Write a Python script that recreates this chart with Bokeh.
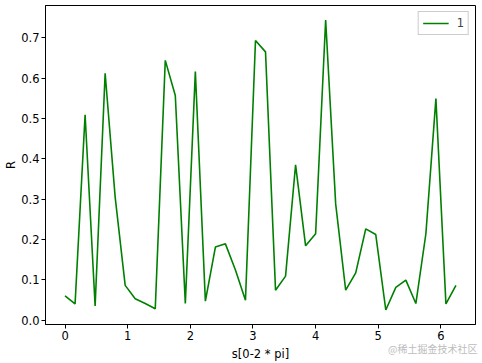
from bokeh.plotting import figure
from bokeh.models import Range1d, FixedTicker, Legend, LegendItem, PrintfTickFormatter, Title
from bokeh.embed import file_html
from bokeh.resources import INLINE

# sample positions (0 .. 2*pi, step 0.16)
s_values = [0.00, 0.16, 0.32, 0.48, 0.64, 0.80, 0.96, 1.12, 1.28, 1.44,
            1.60, 1.76, 1.92, 2.08, 2.24, 2.40, 2.56, 2.72, 2.88, 3.04,
            3.20, 3.36, 3.52, 3.68, 3.84, 4.00, 4.16, 4.32, 4.48, 4.64,
            4.80, 4.96, 5.12, 5.28, 5.44, 5.60, 5.76, 5.92, 6.08, 6.24]
r_values = [0.060, 0.040, 0.509, 0.035, 0.612, 0.305, 0.086, 0.053, 0.041, 0.028,
            0.644, 0.557, 0.041, 0.616, 0.047, 0.181, 0.189, 0.124, 0.049, 0.693,
            0.665, 0.074, 0.109, 0.385, 0.184, 0.214, 0.744, 0.288, 0.074, 0.117,
            0.226, 0.212, 0.025, 0.081, 0.099, 0.041, 0.214, 0.549, 0.040, 0.086]
series_name = "1"
x_ticks = [0, 1, 2, 3, 4, 5, 6]
y_ticks = [0.0, 0.1, 0.2, 0.3, 0.4, 0.5, 0.6, 0.7]
watermark = "@稀土掘金技术社区"

FONT = "DejaVu Sans"
FS = "11.5px"

p = figure(width=482, height=363, output_backend="svg", toolbar_location=None,
           x_range=Range1d(-0.312, 6.552), y_range=Range1d(-0.011, 0.780),
           min_border_left=45, min_border_right=7, min_border_top=5, min_border_bottom=39)
p.background_fill_color = "white"
p.border_fill_color = "white"
p.outline_line_color = "black"
p.outline_line_width = 1
p.grid.visible = False

r = p.line(s_values, r_values, line_color="#008000", line_width=1.6)

for ax in (p.xaxis[0], p.yaxis[0]):
    ax.major_tick_in = 0
    ax.major_tick_out = 4
    ax.minor_tick_in = 0
    ax.minor_tick_out = 0
    ax.axis_line_color = "black"
    ax.major_tick_line_color = "black"
    ax.major_label_text_font = FONT
    ax.major_label_text_font_size = FS
    ax.major_label_text_color = "black"
    ax.axis_label_text_font = FONT
    ax.axis_label_text_font_size = FS
    ax.axis_label_text_font_style = "normal"
    ax.axis_label_text_color = "black"

p.xaxis.ticker = FixedTicker(ticks=x_ticks)
p.yaxis.ticker = FixedTicker(ticks=y_ticks)
p.yaxis.formatter = PrintfTickFormatter(format="%.1f")
p.xaxis.axis_label = "s[0-2 * pi]"
p.yaxis.axis_label = "R"
p.xaxis.major_label_standoff = 2
p.yaxis.major_label_standoff = 2
p.xaxis.axis_label_standoff = 4
p.yaxis.axis_label_standoff = 0

legend = Legend(items=[LegendItem(label=series_name, renderers=[r])], location="top_right")
legend.label_text_font = FONT
legend.label_text_font_size = FS
legend.border_line_color = "#cccccc"
legend.border_line_alpha = 1
legend.margin = 6
legend.padding = 4
legend.glyph_width = 26
legend.glyph_height = 14
legend.label_height = 14
legend.label_width = 7
legend.label_standoff = 8
legend.spacing = 0
p.add_layout(legend)

# watermark in the bottom side panel, pulled up beside the x axis label
wm = Title(text=watermark, align="right", vertical_align="top", offset=-2, standoff=-46,
           text_font="Noto Sans CJK SC", text_font_size="10px", text_font_style="normal",
           text_color="#bdbdbd")
p.add_layout(wm, "below")

open("out.html", "w").write(file_html(p, INLINE))
